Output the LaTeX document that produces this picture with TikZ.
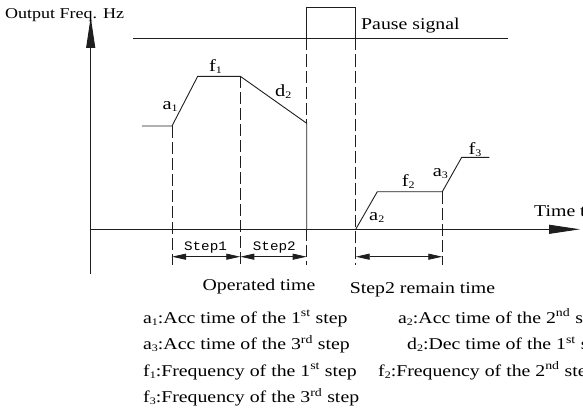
\documentclass[tikz,border=0pt]{standalone}
\usepackage{fontspec}
\setmainfont[FakeStretch=1.2]{Liberation Serif}
\newfontfamily\stepfont[FakeStretch=1.1]{Liberation Mono}
\usetikzlibrary{arrows.meta}
\definecolor{ln}{HTML}{1E1E1E}
\newcommand{\lab}[2]{#1\raisebox{-2pt}{\fontsize{10}{10}\selectfont#2}}
\newcommand{\ord}[2]{#1\textsuperscript{#2}}
\tikzset{
  curve/.style={draw=ln,line width=0.9pt},
  guide/.style={draw=ln,line width=0.8pt,dash pattern=on 12pt off 4pt},
  ax/.style={draw=ln,line width=0.9pt,-{Triangle[length=31pt,width=9pt]}},
  dim/.style={draw=ln,line width=0.8pt,{Triangle[length=14pt,width=6pt]}-{Triangle[length=14pt,width=6pt]}},
  lbl/.style={inner sep=0pt,anchor=base west,font=\fontsize{17}{19}\selectfont},
  txt/.style={inner sep=0pt,anchor=base west,font=\fontsize{16.5}{19}\selectfont},
  steplbl/.style={inner sep=0pt,anchor=base,font=\stepfont\fontsize{13}{15}\selectfont},
}
\begin{document}
\begin{tikzpicture}[x=1pt,y=-1pt]
\useasboundingbox (0,0) rectangle (583,412);
% axes
\coordinate (ybot) at (90.7,274);
\coordinate (ytop) at (90.7,17);
\coordinate (t0) at (90.7,229.3);
\coordinate (tend) at (580,229.3);
\draw[ax] (ybot) -- (ytop);
\draw[ax] (t0) -- (tend);
\node[txt,font=\fontsize{15}{17}\selectfont] (yl) at (5,18.3) {Output Freq. Hz};
\node[txt] (tl) at (534,216.7) {Time t};
% pause signal
\coordinate (g0) at (133,38.5);
\coordinate (g1) at (508,38.5);
\coordinate (p0) at (306.7,38.5);
\coordinate (p1) at (306.7,7.5);
\coordinate (p2) at (355.7,7.5);
\coordinate (p3) at (355.7,38.5);
\draw[curve] (g0) -- (g1);
\draw[curve] (p0) -- (p1) -- (p2) -- (p3);
\node[txt] (ps) at (361,29.5) {Pause signal};
% first run
\coordinate (s0) at (142,126);
\coordinate (s1) at (172,126);
\coordinate (s2) at (197.7,76.3);
\coordinate (s3) at (240.3,76.3);
\coordinate (s4) at (306.7,123.3);
\coordinate (k1) at (306.7,229.3);
\draw[curve] (s0) -- (s1) -- (s2) -- (s3) -- (s4) -- (k1);
% second run
\coordinate (r0) at (355.7,229.3);
\coordinate (r1) at (377.3,191.7);
\coordinate (r2) at (442.3,191.7);
\coordinate (r3) at (461.7,157.3);
\coordinate (r4) at (489.3,157.3);
\draw[curve] (r0) -- (r1) -- (r2) -- (r3) -- (r4);
\node[lbl] (a1) at (162.3,109.3) {\lab{a}{1}};
\node[lbl] (f1) at (209,71.7) {\lab{f}{1}};
\node[lbl] (d2) at (275,96.7) {\lab{d}{2}};
\node[lbl] (a2) at (369,220.7) {\lab{a}{2}};
\node[lbl] (f2) at (401.7,186.7) {\lab{f}{2}};
\node[lbl] (a3) at (432.7,176.7) {\lab{a}{3}};
\node[lbl] (f3) at (468.3,154) {\lab{f}{3}};
% guide lines and time spans
\coordinate (bot) at (0,265);
\coordinate (dimy) at (0,256.7);
\draw[guide] (s1) -- (s1 |- bot);
\draw[guide] (s3) -- (s3 |- bot);
\draw[guide] (p0) -- (s4);
\draw[guide] (k1) -- (k1 |- bot);
\draw[guide] (p3) -- (p3 |- bot);
\draw[guide] (r2) -- (r2 |- bot);
\draw[dim] (s1 |- dimy) -- (s3 |- dimy);
\draw[dim] (s3 |- dimy) -- (k1 |- dimy);
\draw[dim] (r0 |- dimy) -- (r2 |- dimy);
\node[steplbl] (st1) at (205.5,250) {Step1};
\node[steplbl] (st2) at (274.3,250) {Step2};
\node[txt,anchor=base] (op) at (259,290.7) {Operated time};
\node[txt,anchor=base] (rm) at (422.5,293.3) {Step2 remain time};
% legend
\node[txt] (la1) at (143,323) {\lab{a}{1}:Acc time of the \ord{1}{st} step};
\node[txt] (la3) at (143,349.5) {\lab{a}{3}:Acc time of the \ord{3}{rd} step};
\node[txt] (lf1) at (143,376) {\lab{f}{1}:Frequency of the \ord{1}{st} step};
\node[txt] (lf3) at (143,402.5) {\lab{f}{3}:Frequency of the \ord{3}{rd} step};
\node[txt] (la2) at (398,323) {\lab{a}{2}:Acc time of the \ord{2}{nd} step};
\node[txt] (ld2) at (407,349.5) {\lab{d}{2}:Dec time of the \ord{1}{st} step};
\node[txt] (lf2) at (378,376) {\lab{f}{2}:Frequency of the \ord{2}{nd} step};
\end{tikzpicture}
\end{document}
